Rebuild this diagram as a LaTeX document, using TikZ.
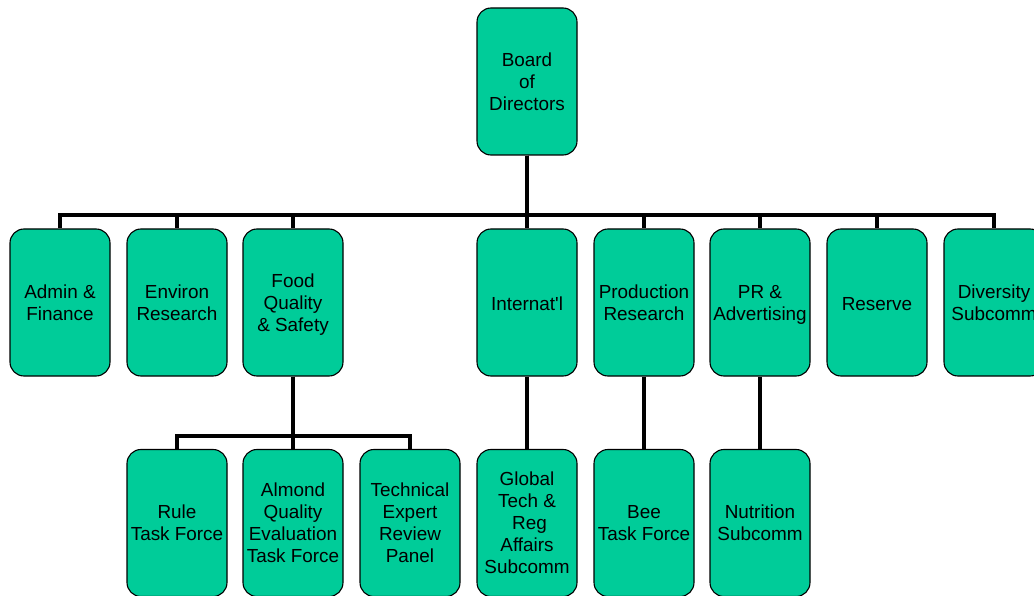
\documentclass[tikz,border=0pt]{standalone}
\usepackage{fontspec}
\setmainfont{Liberation Sans}
\definecolor{boxgreen}{HTML}{00CC99}
\begin{document}
\begin{tikzpicture}[x=1pt,y=1pt,
  unit/.style={draw=black, line width=1.1pt, fill=boxgreen, rounded corners=14pt,
    minimum width=100pt, minimum height=147pt, inner sep=0pt, align=center,
    text depth=0pt,
    font=\fontsize{18.9}{22}\selectfont,
    execute at begin node={\rule{0pt}{16pt}}},
  conn/.style={draw=black, line width=3.6pt}]
\useasboundingbox (0,0) rectangle (1034,-596);
\clip (0,0) rectangle (1034,-596);
% top
\node[unit] (board) at (527,-81.5) {Board\\of\\Directors};
% level 2
\node[unit] (admin) at (60,-302.5) {Admin \&\\Finance};
\node[unit] (env) at (177,-302.5) {Environ\\Research};
\node[unit] (food) at (293,-302.5) {Food\\Quality\\\& Safety};
\node[unit] (intl) at (527,-302.5) {Internat\textquotesingle l};
\node[unit] (prod) at (644,-302.5) {Production\\Research};
\node[unit] (pr) at (760,-302.5) {PR \&\\Advertising};
\node[unit] (res) at (877,-302.5) {Reserve};
\node[unit] (div) at (994,-302.5) {Diversity\\Subcomm};
% level 3
\node[unit] (rule) at (177,-523) {Rule\\Task Force};
\node[unit] (almond) at (293,-523) {Almond\\Quality\\Evaluation\\Task Force};
\node[unit] (tech) at (410,-523) {Technical\\Expert\\Review\\Panel};
\node[unit] (glob) at (527,-523) {Global\\Tech \&\\\hspace*{5pt}Reg\\Affairs\\Subcomm};
\node[unit] (bee) at (644,-523) {Bee\\Task Force};
\node[unit] (nutr) at (760,-523) {Nutrition\\Subcomm};
% bus coordinates
\coordinate (bus) at (527,-215);
\coordinate (fbus) at (293,-436);
% connectors from board
\foreach \c in {admin,env,food,intl,prod,pr,res,div}{
  \draw[conn] (board.south) -- (board.south |- bus) -| (\c.north);
}
% food sub-tree
\foreach \c in {rule,almond,tech}{
  \draw[conn] (food.south) -- (food.south |- fbus) -| (\c.north);
}
\draw[conn] (intl.south) -- (glob.north);
\draw[conn] (prod.south) -- (bee.north);
\draw[conn] (pr.south) -- (nutr.north);
\end{tikzpicture}
\end{document}
